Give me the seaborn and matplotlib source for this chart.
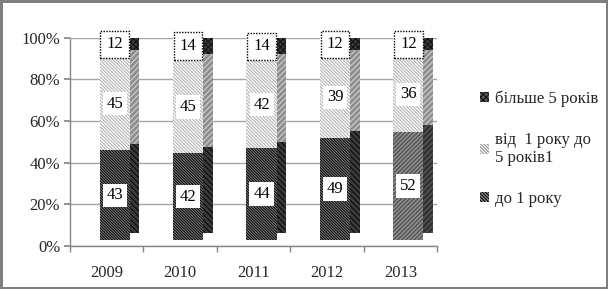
import numpy as np
import pandas as pd
import matplotlib
matplotlib.use("Agg")
import matplotlib.pyplot as plt
import matplotlib.transforms as mtrans
import seaborn as sns
from matplotlib.ticker import FixedLocator, PercentFormatter

years = ["2009", "2010", "2011", "2012", "2013"]
up_to_1 = [43, 42, 44, 49, 52]
from_1_to_5 = [45, 45, 42, 39, 36]
over_5 = [12, 14, 14, 12, 12]
series_names = ["до 1 року", "від  1 року до\n5 років1", "більше 5 років"]

sns.set_theme(style="white")
plt.rcParams["font.family"] = ["Liberation Serif", "DejaVu Serif"]
plt.rcParams["hatch.linewidth"] = 0.8

tot = np.array(up_to_1) + np.array(from_1_to_5) + np.array(over_5)
p1 = np.array(up_to_1) / tot * 100
p2 = np.array(from_1_to_5) / tot * 100
p3 = np.array(over_5) / tot * 100

df = pd.DataFrame({"year": years, "c1": p1, "c2": p1 + p2, "c3": p1 + p2 + p3})

fig = plt.figure(figsize=(6.08, 2.89), dpi=100)
ax = fig.add_axes([0.115, 0.149, 0.604, 0.72])

BW = 0.41
front_shift = mtrans.ScaledTranslation(0.08, 0.06, fig.dpi_scale_trans)
side_shift = mtrans.ScaledTranslation(0.175, 0.125, fig.dpi_scale_trans)

# depth (side / top faces) drawn first, then front faces
side_styles = [
    ("c3", "#3c3c3c", "#111111", "xxxxxx"),
    ("c2", "#8e8e8e", "#d0d0d0", "//////"),
    ("c1", "#3a3a3a", "#0a0a0a", "\\\\\\\\\\\\"),
]
front_styles = [
    ("c3", "#ffffff", "#ffffff", ""),
    ("c2", "#ffffff", "#b4b4b4", "\\" * 10),
    ("c1", "#8a8a8a", "#0a0a0a", "\\" * 12),
]


def draw(styles, transform):
    out = []
    for col, fc, hc, hatch in styles:
        n0 = len(ax.patches)
        sns.barplot(data=df, x="year", y=col, color=fc, width=BW, ax=ax,
                    saturation=1, linewidth=0)
        pts = ax.patches[n0:]
        for p in pts:
            p.set_facecolor(fc)
            p.set_edgecolor(hc)
            p.set_hatch(hatch)
            p.set_linewidth(0)
            p.set_transform(ax.transData + transform)
        out.append(pts)
    return out


sides = draw(side_styles, side_shift)
fronts = draw(front_styles, front_shift)

# 2013 bottom segment has a different fill
last = fronts[2][-1]
last.set_facecolor("#8c8c8c")
last.set_hatch("/" * 8)
last.set_edgecolor("#4a4a4a")
sides[2][-1].set_facecolor("#4a4a4a")
sides[2][-1].set_hatch("//////")
sides[2][-1].set_edgecolor("#222222")

# labels
for i in range(len(years)):
    for val, mid, dotted in [(up_to_1[i], p1[i] / 2, False),
                             (from_1_to_5[i], p1[i] + p2[i] / 2, False),
                             (over_5[i], p1[i] + p2[i] + p3[i] / 2, True)]:
        if dotted:
            bbox = dict(boxstyle="square,pad=0.35", fc="white", ec="black",
                        ls=(0, (1, 1)), lw=1.0)
        else:
            bbox = dict(boxstyle="square,pad=0.22", fc="white", ec="none")
        ax.text(i, mid, str(val), ha="center", va="center", fontsize=12,
                color="black", bbox=bbox, zorder=5,
                transform=ax.transData + front_shift)

ax.set_ylim(0, 100)
ax.set_xlim(-0.5, 4.5)
ax.yaxis.set_major_locator(FixedLocator([0, 20, 40, 60, 80, 100]))
ax.yaxis.set_major_formatter(PercentFormatter(decimals=0))
ax.set_xlabel("")
ax.set_ylabel("")
ax.grid(axis="y", color="#a6a6a6", lw=1)
ax.set_axisbelow(True)
for s in ["top", "right"]:
    ax.spines[s].set_visible(False)
for s in ["left", "bottom"]:
    ax.spines[s].set_color("#868686")
    ax.spines[s].set_linewidth(1)
ax.tick_params(axis="y", left=True, length=4, color="#868686", labelsize=12, pad=3)
ax.tick_params(axis="x", bottom=False, labelsize=12, pad=8)
ax.set_xticks(np.arange(-0.5, 5, 1), minor=True)
ax.tick_params(axis="x", which="minor", bottom=True, length=4, color="#868686")

handles = [
    matplotlib.patches.Patch(facecolor="#5a5a5a", edgecolor="#111111", hatch="xxxxxx", lw=0),
    matplotlib.patches.Patch(facecolor="#ffffff", edgecolor="#8f8f8f", hatch="\\" * 10, lw=0),
    matplotlib.patches.Patch(facecolor="#8a8a8a", edgecolor="#0a0a0a", hatch="\\" * 10, lw=0),
]
fig.legend(handles, series_names[::-1], loc="center left",
           bbox_to_anchor=(0.79, 0.485), frameon=False, fontsize=12,
           handlelength=0.55, handleheight=0.55, handletextpad=0.35,
           labelspacing=1.5, borderpad=0, borderaxespad=0)

fig.patch.set_edgecolor("#7f7f7f")
fig.patch.set_linewidth(2.5)
fig.savefig("out.png", dpi=100, edgecolor=fig.patch.get_edgecolor())
